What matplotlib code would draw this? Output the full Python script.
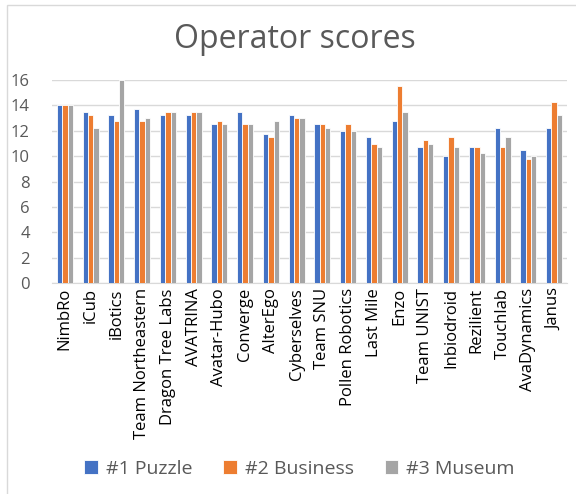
import numpy as np
import matplotlib.pyplot as plt
from matplotlib.patches import Rectangle

plt.rcParams['font.family'] = ['Open Sans', 'DejaVu Sans']

########## DATA ##########

teams = ["NimbRo", "iCub", "iBotics", "Team Northeastern", "Dragon Tree Labs",
         "AVATRINA", "Avatar-Hubo", "Converge", "AlterEgo", "Cyberselves",
         "Team SNU", "Pollen Robotics", "Last Mile", "Enzo", "Team UNIST",
         "Inbiodroid", "Rezilient", "Touchlab", "AvaDynamics", "Janus"]

puzzle = [14, 13.5, 13.25, 13.75, 13.25, 13.25, 12.5, 13.5, 11.75, 13.25,
          12.5, 12, 11.5, 12.75, 10.75, 10, 10.75, 12.25, 10.5, 12.25]
business = [14, 13.25, 12.75, 12.75, 13.5, 13.5, 12.75, 12.5, 11.5, 13,
            12.5, 12.5, 11, 15.5, 11.25, 11.5, 10.75, 10.75, 9.75, 14.25]
museum = [14, 12.25, 16, 13, 13.5, 13.5, 12.5, 12.5, 12.75, 13,
          12.25, 12, 10.75, 13.5, 11, 10.75, 10.25, 11.5, 10, 13.25]

series_names = ["#1 Puzzle", "#2 Business", "#3 Museum"]
colors = ["#4472C4", "#ED7D31", "#A5A5A5"]

########## PLOT ##########

fig = plt.figure(figsize=(5.76, 4.94), dpi=100)
ax = fig.add_axes([52/576, 1 - 283.3/494, 515/576, 203.3/494])

# light chart border like the spreadsheet frame
fig.patches.append(Rectangle((7/576, -0.1), 1.2, 1 - 5/494 + 0.1, transform=fig.transFigure,
                             fill=False, edgecolor="#D9D9D9", linewidth=1))

x = np.arange(len(teams))
w = 0.207
for i, vals in enumerate([puzzle, business, museum]):
    ax.bar(x + (i - 1) * w, vals, width=w, color=colors[i], edgecolor="white",
           linewidth=0.6, label=series_names[i], zorder=3)

ax.set_xlim(-0.5, len(teams) - 0.5)
ax.set_ylim(0, 16)
ax.set_yticks(range(0, 17, 2))
ax.grid(axis="y", color="#D9D9D9", linewidth=1, zorder=0)
for s in ["top", "right", "left"]:
    ax.spines[s].set_visible(False)
ax.spines["bottom"].set_color("#D9D9D9")
ax.tick_params(length=0, colors="#595959", labelsize=12)
ax.tick_params(axis="y", pad=16)
ax.set_xticks(x)
ax.set_xticklabels(teams, rotation=90, color="black")

fig.text(0.512, 1 - 40/494, "Operator scores", ha="center", va="center",
         fontsize=23, color="#595959")

fig.legend(loc="center", bbox_to_anchor=(0.52, 1 - 469/494), ncol=3, frameon=False,
           fontsize=14, handlelength=0.7, handleheight=0.7, columnspacing=1.6,
           handletextpad=0.4, labelcolor="#595959")

fig.savefig("out.png", dpi=100)
